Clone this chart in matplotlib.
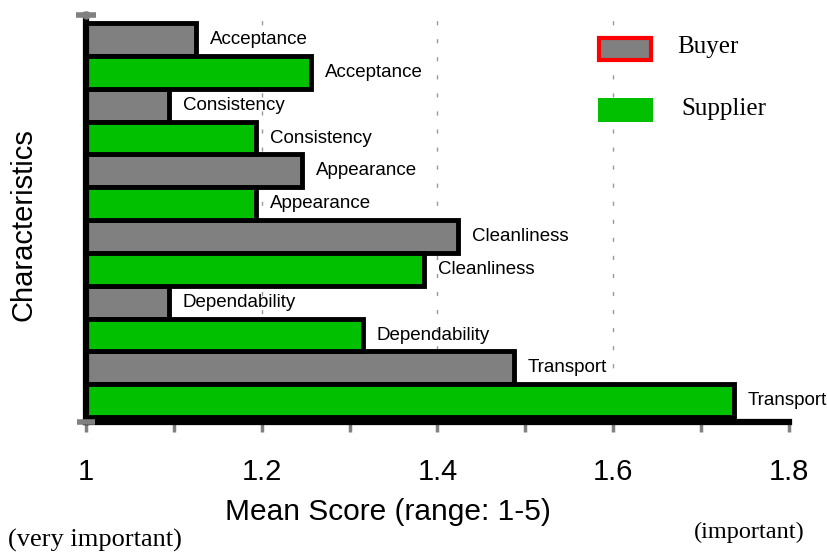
import matplotlib
matplotlib.use("Agg")
import matplotlib.pyplot as plt
from matplotlib.patches import Rectangle

# characteristics, top to bottom
characteristics = ['Acceptance', 'Consistency', 'Appearance', 'Cleanliness',
                   'Dependability', 'Transport']
buyer = [1.125, 1.094, 1.246, 1.423, 1.094, 1.487]
supplier = [1.256, 1.193, 1.193, 1.385, 1.315, 1.737]
xticks = [1.0, 1.2, 1.4, 1.6, 1.8]
xticklabels = ['1', '1.2', '1.4', '1.6', '1.8']
minor_ticks = [1.1, 1.3, 1.5, 1.7]

GRAY = '#808080'
GREEN = '#00c000'
W, H = 828, 554

fig = plt.figure(figsize=(W / 100, H / 100), dpi=100)
ax = fig.add_axes([86 / W, 1 - 422 / H, (789 - 86) / W, (422 - 15) / H])

n = len(characteristics)
buyer_y = [2 * n - 1 - 2 * k for k in range(n)]
supplier_y = [2 * n - 2 - 2 * k for k in range(n)]

ax.barh(buyer_y, [v - 1 for v in buyer], left=1, height=1.0,
        color=GRAY, edgecolor='black', linewidth=3.5, zorder=2)
ax.barh(supplier_y, [v - 1 for v in supplier], left=1, height=1.0,
        color=GREEN, edgecolor='black', linewidth=3.5, zorder=2)

for name, v, y in zip(characteristics, buyer, buyer_y):
    ax.text(v + 0.016, y, name, ha='left', va='center',
            fontsize=13.5, family='Liberation Sans', zorder=4)
for name, v, y in zip(characteristics, supplier, supplier_y):
    ax.text(v + 0.016, y, name, ha='left', va='center',
            fontsize=13.5, family='Liberation Sans', zorder=4)

ax.set_xlim(1, 1.8)
ax.set_ylim(-0.65, 11.75)

# dotted grid
ax.vlines([1.2, 1.4, 1.6], -0.65, 11.75, colors='#999999', linewidth=1,
          linestyles=(0, (3, 10)), zorder=0)

for s in ['top', 'right']:
    ax.spines[s].set_visible(False)
for s in ['left', 'bottom']:
    ax.spines[s].set_linewidth(4.5)
    ax.spines[s].set_color('black')
    ax.spines[s].set_zorder(3)

ax.set_yticks([])
ax.set_xticks(xticks)
ax.set_xticklabels(xticklabels, fontsize=21, family='Liberation Sans')
ax.set_xticks(minor_ticks, minor=True)
ax.tick_params(axis='x', which='both', direction='out', length=7, width=2.5,
               color=GRAY, pad=19)

# caps at the axis ends
ax.plot([0], [1], marker='o', ms=5, color=GRAY, transform=ax.transAxes,
        clip_on=False, zorder=5)
ax.plot([0], [1], marker='_', ms=14, mew=4, color=GRAY, transform=ax.transAxes,
        clip_on=False, zorder=5)
ax.plot([0], [0], marker='_', ms=13, mew=4, color=GRAY, transform=ax.transAxes,
        clip_on=False, zorder=5)

# legend drawn by hand
fig.patches.append(Rectangle((599 / W, 1 - 60 / H), 52 / W, 22 / H,
                             facecolor=GRAY, edgecolor='red', linewidth=3,
                             transform=fig.transFigure, zorder=6))
fig.patches.append(Rectangle((598 / W, 1 - 122 / H), 55 / W, 24 / H,
                             facecolor=GREEN, edgecolor='none',
                             transform=fig.transFigure, zorder=6))
fig.text(677 / W, 1 - 47 / H, 'Buyer', fontsize=18, family='Liberation Serif',
         ha='left', va='center')
fig.text(681 / W, 1 - 109 / H, 'Supplier', fontsize=18, family='Liberation Serif',
         ha='left', va='center')

fig.text(24 / W, 1 - 225 / H, 'Characteristics', rotation=90, fontsize=21,
         family='Liberation Sans', ha='center', va='center')
fig.text(388 / W, 1 - 512 / H, 'Mean Score (range: 1-5)', fontsize=21.5,
         family='Liberation Sans', ha='center', va='center')
fig.text(95 / W, 1 - 540 / H, '(very important)', fontsize=19,
         family='Liberation Serif', ha='center', va='center')
fig.text(749 / W, 1 - 532 / H, '(important)', fontsize=17.5,
         family='Liberation Serif', ha='center', va='center')

fig.savefig('out.png', dpi=100)
